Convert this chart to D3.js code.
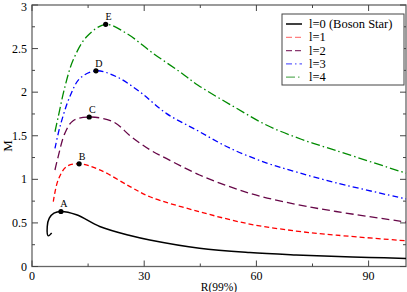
<!DOCTYPE html>
<html><head><meta charset="utf-8">
<script src="https://cdn.jsdelivr.net/npm/d3@7"></script>
<style>body{margin:0;background:#fff}svg{display:block}</style>
</head><body>
<script>
// Data
const seriesNames = ["l=0 (Boson Star)", "l=1", "l=2", "l=3", "l=4"];
const l0R = [5.26, 4.35, 4.08, 4.62, 5.87, 7.74, 11.9, 18.1, 26.2, 31.5, 44.8, 58.2, 70.6, 80, 90.2, 100];
const l0M = [0.383, 0.352, 0.459, 0.555, 0.612, 0.631, 0.593, 0.459, 0.355, 0.304, 0.209, 0.16, 0.133, 0.118, 0.104, 0.092];
const l1R = [5.7, 7.0, 9.26, 12.6, 18.1, 26.2, 31.5, 44.8, 58.2, 70.6, 81.3, 100];
const l1M = [0.745, 0.994, 1.147, 1.178, 1.109, 0.917, 0.80, 0.628, 0.487, 0.407, 0.36, 0.295];
const l2R = [6.14, 7.0, 8.8, 11.0, 15.3, 21.7, 26.5, 31.5, 35.9, 44.8, 58.2, 70.6, 81.3, 100];
const l2M = [1.107, 1.26, 1.53, 1.672, 1.715, 1.66, 1.49, 1.34, 1.24, 1.05, 0.84, 0.713, 0.631, 0.51];
const l3R = [6.14, 7.47, 10.1, 12.8, 17.1, 22.6, 28.8, 35.9, 44, 52.8, 62.6, 70.6, 81.3, 100];
const l3M = [1.355, 1.603, 1.947, 2.158, 2.245, 2.177, 2.005, 1.757, 1.565, 1.36, 1.19, 1.085, 0.96, 0.775];
const l4R = [6.14, 7.02, 8.8, 11.0, 14.6, 19.7, 25.3, 32.4, 39.5, 44.4, 53.7, 62.8, 72, 81.3, 100];
const l4M = [1.546, 1.718, 2.062, 2.368, 2.635, 2.778, 2.674, 2.445, 2.234, 2.08, 1.84, 1.62, 1.46, 1.33, 1.07];
const peakNames = ["A", "B", "C", "D", "E"];
const peakR = [7.74, 12.6, 15.3, 17.1, 19.7];
const peakM = [0.631, 1.178, 1.715, 2.245, 2.778];
const xTicks = [0, 30, 60, 90];
const yTicks = [0, 0.5, 1, 1.5, 2, 2.5, 3];
const xLabel = "R(99%)", yLabel = "M";

const W = 407, H = 292;
const FONT = "'Liberation Serif', 'Times New Roman', Times, 'DejaVu Serif', serif";
const svg = d3.select("body").append("svg").attr("width", W).attr("height", H)
  .attr("font-family", FONT).style("font-family", FONT);
const x = d3.scaleLinear().domain([0, 100]).range([32, 406]);
const y = d3.scaleLinear().domain([0, 3]).range([266.5, 5]);

const colors = ["#000000", "#ff0000", "#670748", "#0000ff", "#008b00"];
const legendColors = ["#000000", "#ff8080", "#8a3a70", "#6060ff", "#60b060"];
const dashes = [null, "5,3", "8,4", "6,3,1.5,3", "9,3,1.5,3"];
const widths = [1.5, 1.3, 1.3, 1.3, 1.3];
const allR = [l0R, l1R, l2R, l3R, l4R], allM = [l0M, l1M, l2M, l3M, l4M];

// frame
svg.append("rect").attr("x", x(0)).attr("y", y(3)).attr("width", x(100) - x(0)).attr("height", y(0) - y(3))
  .attr("fill", "none").attr("stroke", "#666").attr("stroke-width", 1.3);

// ticks (inward) on all four sides
const tk = svg.append("g").attr("stroke", "#444").attr("stroke-width", 1);
const xMinor = [15, 45, 75];
xTicks.forEach(v => { tk.append("line").attr("x1", x(v)).attr("x2", x(v)).attr("y1", y(0)).attr("y2", y(0) - 6);
  tk.append("line").attr("x1", x(v)).attr("x2", x(v)).attr("y1", y(3)).attr("y2", y(3) + 6); });
xMinor.forEach(v => { tk.append("line").attr("x1", x(v)).attr("x2", x(v)).attr("y1", y(0)).attr("y2", y(0) - 3);
  tk.append("line").attr("x1", x(v)).attr("x2", x(v)).attr("y1", y(3)).attr("y2", y(3) + 3); });
d3.range(0, 3.01, 0.25).forEach(v => { const L = (Math.abs(v * 2 - Math.round(v * 2)) < 1e-6) ? 6 : 3;
  tk.append("line").attr("x1", x(0)).attr("x2", x(0) + L).attr("y1", y(v)).attr("y2", y(v));
  tk.append("line").attr("x1", x(100)).attr("x2", x(100) - L).attr("y1", y(v)).attr("y2", y(v)); });

// tick labels
svg.append("g").selectAll("text").data(xTicks).join("text")
  .attr("x", d => x(d)).attr("y", 280).attr("text-anchor", "middle").attr("font-size", 12).text(d => d);
svg.append("g").selectAll("text").data(yTicks).join("text")
  .attr("x", 27).attr("y", d => Math.max(y(d) + 4, 10.5)).attr("text-anchor", "end").attr("font-size", 12).text(d => d);
svg.append("text").attr("x", 219).attr("y", 291).attr("text-anchor", "middle").attr("font-size", 11.5).text(xLabel);
svg.append("text").attr("transform", "translate(12,146) rotate(-90)").attr("text-anchor", "middle").attr("font-size", 13).text(yLabel);

// curves
const line = d3.line().curve(d3.curveCatmullRom.alpha(0.5));
allR.forEach((R, i) => {
  const pts = R.map((r, j) => [x(r), y(allM[i][j])]);
  svg.append("path").attr("d", line(pts)).attr("fill", "none").attr("stroke", colors[i])
    .attr("stroke-width", widths[i]).attr("stroke-dasharray", dashes[i]);
});

// peak markers
peakR.forEach((r, i) => {
  svg.append("circle").attr("cx", x(r)).attr("cy", y(peakM[i])).attr("r", 2.6).attr("fill", "#000");
  svg.append("text").attr("x", x(r) + 3).attr("y", y(peakM[i]) - 4).attr("text-anchor", "middle")
    .attr("font-size", 10).text(peakNames[i]);
});

// legend
const lg = svg.append("g");
lg.append("rect").attr("x", 282).attr("y", 14).attr("width", 122).attr("height", 71)
  .attr("fill", "#fff").attr("stroke", "#444").attr("stroke-width", 1);
seriesNames.forEach((n, i) => {
  const yy = 24 + i * 13.3;
  lg.append("line").attr("x1", 286).attr("x2", 302).attr("y1", yy).attr("y2", yy)
    .attr("stroke", legendColors[i]).attr("stroke-width", widths[i]).attr("stroke-dasharray", dashes[i] ? (i === 1 || i === 2 ? "6,3" : dashes[i]) : null);
  lg.append("text").attr("x", 309).attr("y", yy + 4).attr("font-size", 12.5).text(n);
});
</script>
</body></html>
